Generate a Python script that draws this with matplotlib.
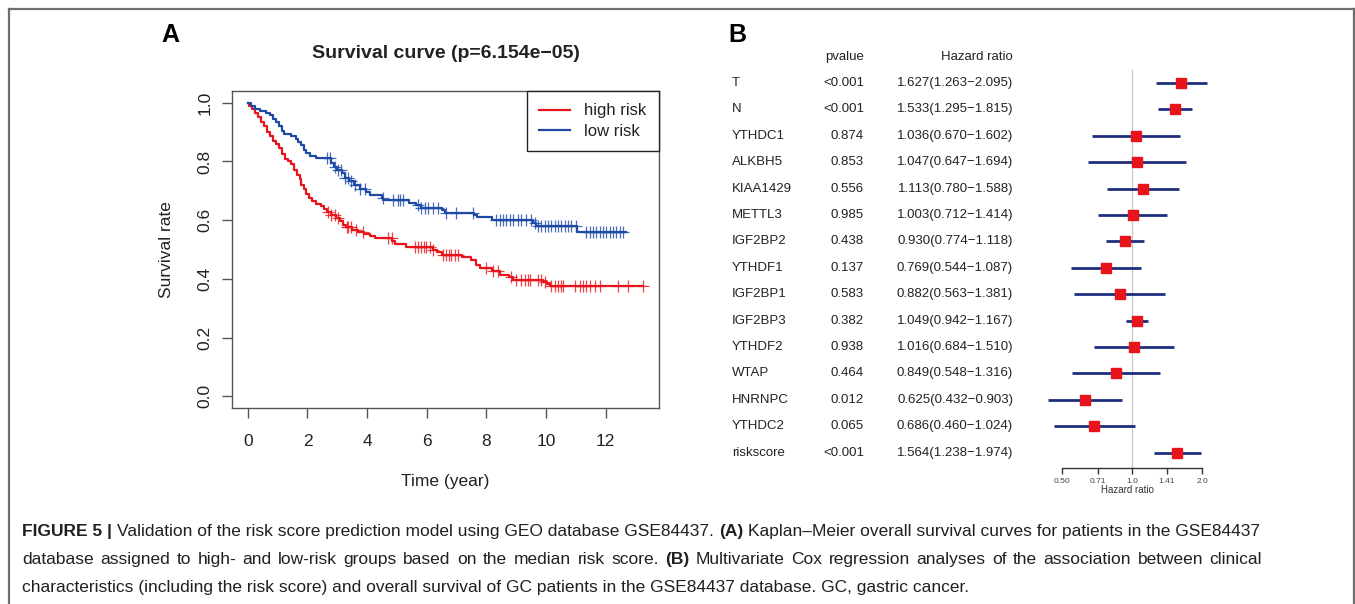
import numpy as np
import matplotlib
matplotlib.use('Agg')
import matplotlib.pyplot as plt
from matplotlib import transforms
from matplotlib.lines import Line2D

plt.rcParams['font.family'] = ['Liberation Sans', 'DejaVu Sans']

W, H = 1355, 604

# --- Panel A: Kaplan-Meier data ---
high_times = [0.05, 0.15, 0.25, 0.35, 0.45, 0.55, 0.65, 0.75, 0.85, 0.95, 1.05, 1.15,
              1.25, 1.35, 1.45, 1.55, 1.65, 1.75, 1.80, 1.87, 1.95, 2.05, 2.15, 2.30,
              2.45, 2.55, 2.65, 2.78, 2.95, 3.10, 3.20, 3.30, 3.50, 3.70, 3.90, 4.10,
              4.25, 4.85, 4.95, 5.30, 6.20, 6.35, 6.50, 7.20, 7.50, 7.65, 7.80, 8.20,
              8.45, 8.75, 8.90, 9.90, 10.05, 10.15]
high_surv = [0.99, 0.98, 0.965, 0.95, 0.935, 0.92, 0.90, 0.885, 0.87, 0.86, 0.845, 0.825,
             0.81, 0.80, 0.79, 0.77, 0.755, 0.74, 0.72, 0.705, 0.69, 0.675, 0.665, 0.655,
             0.648, 0.638, 0.628, 0.618, 0.608, 0.598, 0.585, 0.576, 0.568, 0.56, 0.552, 0.545,
             0.54, 0.528, 0.518, 0.51, 0.50, 0.49, 0.482, 0.475, 0.465, 0.448, 0.437, 0.428,
             0.414, 0.405, 0.397, 0.39, 0.382, 0.376]
high_tmax = 13.26
high_censor = [2.69, 2.80, 2.92, 3.03, 3.31, 3.36, 3.47, 3.64, 3.86, 4.70, 4.82, 5.60,
               5.71, 5.82, 5.90, 5.99, 6.10, 6.21, 6.55, 6.66, 6.75, 6.83, 6.94, 7.05,
               8.00, 8.22, 8.39, 8.84, 9.01, 9.17, 9.28, 9.40, 9.45, 9.73, 9.84, 9.96,
               10.18, 10.29, 10.40, 10.51, 10.57, 10.96, 11.13, 11.24, 11.35, 11.46, 11.63,
               11.80, 12.41, 12.75, 13.26]

low_times = [0.10, 0.25, 0.40, 0.60, 0.75, 0.85, 0.95, 1.05, 1.15, 1.20, 1.45, 1.60,
             1.70, 1.80, 1.90, 1.95, 2.10, 2.30, 2.80, 2.90, 3.00, 3.15, 3.25, 3.40,
             3.55, 3.75, 3.95, 4.10, 4.50, 4.55, 5.40, 5.65, 5.80, 6.50, 6.60, 7.60,
             7.70, 8.20, 9.55, 9.65, 11.05]
low_surv = [0.99, 0.98, 0.972, 0.965, 0.958, 0.945, 0.935, 0.92, 0.905, 0.895, 0.885, 0.875,
            0.865, 0.855, 0.84, 0.828, 0.818, 0.812, 0.795, 0.782, 0.772, 0.76, 0.745, 0.732,
            0.72, 0.705, 0.695, 0.686, 0.675, 0.669, 0.66, 0.65, 0.641, 0.633, 0.626, 0.618,
            0.612, 0.601, 0.59, 0.58, 0.558]
low_tmax = 12.70
low_censor = [2.64, 2.75, 2.92, 3.03, 3.14, 3.25, 3.36, 3.47, 3.58, 3.75, 3.92, 4.54,
              4.87, 5.04, 5.09, 5.20, 5.71, 5.82, 5.93, 6.04, 6.21, 6.38, 6.66, 6.99,
              7.55, 8.33, 8.45, 8.56, 8.67, 8.78, 8.89, 9.06, 9.17, 9.34, 9.51, 9.62,
              9.73, 9.84, 9.96, 10.07, 10.18, 10.29, 10.40, 10.51, 10.63, 10.74, 10.85,
              11.02, 11.35, 11.46, 11.58, 11.69, 11.80, 11.91, 12.02, 12.13, 12.24, 12.35,
              12.47, 12.58]

# --- Panel B: multivariate Cox data ---
genes = ['T', 'N', 'YTHDC1', 'ALKBH5', 'KIAA1429', 'METTL3', 'IGF2BP2', 'YTHDF1',
         'IGF2BP1', 'IGF2BP3', 'YTHDF2', 'WTAP', 'HNRNPC', 'YTHDC2', 'riskscore']
pvals = ['<0.001', '<0.001', '0.874', '0.853', '0.556', '0.985', '0.438', '0.137',
         '0.583', '0.382', '0.938', '0.464', '0.012', '0.065', '<0.001']
hr = [1.627, 1.533, 1.036, 1.047, 1.113, 1.003, 0.930, 0.769, 0.882, 1.049, 1.016,
      0.849, 0.625, 0.686, 1.564]
hr_low = [1.263, 1.295, 0.670, 0.647, 0.780, 0.712, 0.774, 0.544, 0.563, 0.942, 0.684,
          0.548, 0.432, 0.460, 1.238]
hr_high = [2.095, 1.815, 1.602, 1.694, 1.588, 1.414, 1.118, 1.087, 1.381, 1.167, 1.510,
           1.316, 0.903, 1.024, 1.974]
hr_ticks = [0.50, 0.71, 1.0, 1.41, 2.0]
hr_ticklabels = ['0.50', '0.71', '1.0', '1.41', '2.0']

RED = '#e8141b'
BLUE = '#1c4aa5'
NAVY = '#1f2f7e'
TXT = '#222222'


def px_axes(fig, l, t, r, b):
    return fig.add_axes([l / W, 1 - b / H, (r - l) / W, (b - t) / H])


def km_curve(ax, times, surv, tmax, censor, color, label):
    t = np.r_[0.0, times, tmax]
    s = np.r_[1.0, surv, surv[-1]]
    ax.step(t, s, where='post', color=color, lw=1.6, label=label)
    idx = np.searchsorted(t, censor, side='right') - 1
    ax.plot(censor, s[idx], ls='none', marker='+', ms=8.5, mew=0.9, color=color, alpha=0.8)


fig = plt.figure(figsize=(W / 100, H / 100), dpi=100)

# --- Panel A ---
ax = px_axes(fig, 232, 91, 659, 408)
km_curve(ax, high_times, high_surv, high_tmax, high_censor, RED, 'high risk')
km_curve(ax, low_times, low_surv, low_tmax, low_censor, BLUE, 'low risk')
ax.set_xlim(-0.53, 13.79)
ax.set_ylim(-0.04, 1.04)
ax.set_xticks(np.arange(0, 13, 2))
ax.set_yticks(np.arange(0, 1.01, 0.2))
ax.set_yticklabels([f'{v:.1f}' for v in np.arange(0, 1.01, 0.2)], rotation=90, va='center')
for sp in ax.spines.values():
    sp.set_color('#555555')
    sp.set_linewidth(1.0)
ax.tick_params(direction='out', length=7, width=1, color='#555555', labelsize=12.5,
               labelcolor=TXT)
ax.tick_params(axis='x', pad=12)
ax.tick_params(axis='y', pad=7)
ax.set_xlabel('Time (year)', fontsize=12.5, color=TXT, labelpad=18)
ax.set_ylabel('Survival rate', fontsize=12.5, color=TXT, labelpad=17)
ax.set_title('Survival curve (p=6.154e\u221205)', fontsize=14, fontweight='bold',
             color=TXT, pad=24)
leg = ax.legend(loc='upper right', borderaxespad=0, fancybox=False, fontsize=12,
                handlelength=1.85, handletextpad=0.85, labelspacing=0.3, borderpad=0.75,
                edgecolor='#222222', framealpha=1)
leg.get_frame().set_linewidth(1.0)
for txt in leg.get_texts():
    txt.set_color(TXT)
fig.text(170 / W, 1 - 35 / H, 'A', fontsize=18, fontweight='bold', ha='center', va='center')

# --- Panel B: forest plot ---
row0, drow = 83.0, 26.4
y_top, y_axis = 70.0, 468.0
x_l, x_r = 1040.0, 1215.0
x_one, px_per_log2 = 1132.3, 70.0
fx = px_axes(fig, x_l, y_top, x_r, y_axis)
fx.set_xscale('log', base=2)
fx.set_xlim(2 ** ((x_l - x_one) / px_per_log2), 2 ** ((x_r - x_one) / px_per_log2))
fx.set_ylim((y_axis - row0) / drow, (y_top - row0) / drow)
rows = np.arange(len(genes))
fx.axvline(1.0, color='#c8c8c8', lw=0.9, zorder=0)
fx.hlines(rows, hr_low, hr_high, color=NAVY, lw=2.0, zorder=2)
fx.plot(hr, rows, ls='none', marker='s', ms=7, color=RED, mec=RED, zorder=3)
for side in ['top', 'left', 'right']:
    fx.spines[side].set_visible(False)
fx.spines['bottom'].set_bounds(hr_ticks[0], hr_ticks[-1])
fx.spines['bottom'].set_color('#333333')
fx.spines['bottom'].set_linewidth(1.0)
fx.set_yticks([])
fx.set_xticks(hr_ticks)
fx.set_xticklabels(hr_ticklabels)
fx.minorticks_off()
fx.tick_params(axis='x', direction='out', length=4, width=1, color='#333333',
               labelsize=6, labelcolor='#444444', pad=3)
fx.set_xlabel('Hazard ratio', fontsize=7, color='#333333', labelpad=0.5)
fx.patch.set_alpha(0)

blend = transforms.blended_transform_factory(fig.transFigure, fx.transData)
fs = 9.5
for i, (g, p, h, lo, hi) in enumerate(zip(genes, pvals, hr, hr_low, hr_high)):
    fig.text(732 / W, i, g, transform=blend, fontsize=fs, color=TXT, va='center', ha='left')
    fig.text(864 / W, i, p, transform=blend, fontsize=fs, color=TXT, va='center', ha='right')
    fig.text(1013 / W, i, f'{h:.3f}({lo:.3f}\u2212{hi:.3f})', transform=blend,
             fontsize=fs, color=TXT, va='center', ha='right')
fig.text(864 / W, 1 - 57 / H, 'pvalue', fontsize=fs, color=TXT, va='center', ha='right')
fig.text(1013 / W, 1 - 57 / H, 'Hazard ratio', fontsize=fs, color=TXT, va='center', ha='right')
fig.text(737 / W, 1 - 35 / H, 'B', fontsize=18, fontweight='bold', ha='center', va='center')

# --- frame ---
fc = '#6e6e6e'
fig.add_artist(Line2D([9 / W, 9 / W], [0, 1 - 8.5 / H], color=fc, lw=1.6, transform=fig.transFigure))
fig.add_artist(Line2D([1353.5 / W, 1353.5 / W], [0, 1 - 8.5 / H], color=fc, lw=1.6, transform=fig.transFigure))
fig.add_artist(Line2D([9 / W, 1353.5 / W], [1 - 8.5 / H, 1 - 8.5 / H], color=fc, lw=1.6, transform=fig.transFigure))

# --- caption (justified, with bold pieces) ---
caption = [
    [('FIGURE 5 |', True), ('Validation of the risk score prediction model using GEO database GSE84437.', False),
     ('(A)', True), ('Kaplan\u2013Meier overall survival curves for patients in the GSE84437', False)],
    [('database assigned to high- and low-risk groups based on the median risk score.', False),
     ('(B)', True), ('Multivariate Cox regression analyses of the association between clinical', False)],
    [('characteristics (including the risk score) and overall survival of GC patients in the GSE84437 database. GC, gastric cancer.', False)],
]
cap_base = [536, 564, 592]
cap_x0, cap_x1 = 22.0, 1262.0
cap_fs = 12.5
renderer = fig.canvas.get_renderer()


def text_w(s, bold):
    t = fig.text(0, 0, s, fontsize=cap_fs, fontweight='bold' if bold else 'normal')
    w = t.get_window_extent(renderer).width
    t.remove()
    return w


def put(x, yb, s, b):
    fig.text(x / W, 1 - yb / H, s, fontsize=cap_fs, color='#231f20', va='baseline',
             ha='left', fontweight='bold' if b else 'normal')


space_w = text_w('a a', False) - text_w('aa', False)
for li, (parts, yb) in enumerate(zip(caption, cap_base)):
    seg_w = [text_w(s, b) for s, b in parts]
    natural = sum(seg_w) + space_w * (len(parts) - 1)
    n_words = sum(len(s.split(' ')) for s, b in parts)
    extra = (cap_x1 - cap_x0 - natural) / (n_words - 1)
    if li == len(caption) - 1 or abs(extra) < 0.3:
        x = cap_x0
        for (s, b), w in zip(parts, seg_w):
            put(x, yb, s, b)
            x += w + space_w
        continue
    # justified line: spread the remaining width over the word gaps
    seg_x, j = cap_x0, 0
    for (s, b), w in zip(parts, seg_w):
        words = s.split(' ')
        for k, word in enumerate(words):
            off = text_w(' '.join(words[:k + 1]), b) - text_w(word, b)
            put(seg_x + off + j * extra, yb, word, b)
            j += 1
        seg_x += w + space_w
fig.savefig('out.png', dpi=100)
